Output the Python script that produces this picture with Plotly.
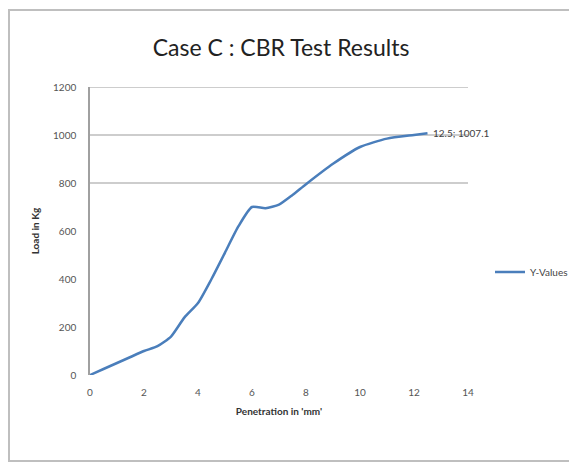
import plotly.graph_objects as go

penetration = [0, 0.5, 1, 1.5, 2, 2.5, 3, 3.5, 4, 4.5, 5, 5.5, 6, 6.5, 7, 7.5, 8, 9, 10, 11, 12, 12.5]
load = [0, 25, 50, 75, 100, 120, 160, 240, 300, 400, 510, 620, 700, 695, 710, 750, 795, 880, 950, 985, 1000, 1007.1]
x_ticks = [0, 2, 4, 6, 8, 10, 12, 14]
y_ticks = [0, 200, 400, 600, 800, 1000, 1200]
grid_ticks = [800, 1000, 1200]

FONT = "Lato"
OFF = 8  # page body margin
W, H = 577, 469
L, T = 90 - OFF, 87 - OFF
R, B = W - (468 - OFF), H - (375 - OFF)
pw, ph = W - L - R, H - T - B

fig = go.Figure()
fig.add_trace(go.Scatter(
    x=penetration, y=load, mode="lines", name="Y-Values",
    line=dict(color="#4a7ebb", width=2.5, shape="spline", smoothing=0.6),
))

for g in grid_ticks:
    fig.add_shape(type="line", xref="paper", yref="y", x0=0, x1=1, y0=g, y1=g,
                  line=dict(color="#bdbdbd", width=1.5), layer="below")

fig.add_annotation(x=penetration[-1], y=load[-1], text=f"{penetration[-1]}; {load[-1]}",
                   showarrow=False, xanchor="left", xshift=3,
                   font=dict(size=10, color="#404040", family=FONT))

fig.update_layout(
    width=W, height=H,
    margin=dict(l=L, r=R, t=T, b=B),
    paper_bgcolor="white", plot_bgcolor="white",
    title=dict(text="Case C : CBR Test Results", x=(281 - OFF) / W, xanchor="center",
               y=1 - (48 - OFF) / H, yanchor="middle",
               font=dict(family=FONT, size=23, color="#222")),
    xaxis=dict(range=[0, 14], tickvals=x_ticks, showgrid=False, zeroline=False,
               showline=False, ticks="", ticklabelstandoff=10, automargin=False,
               tickfont=dict(size=10, color="#555", family=FONT),
               title=dict(text="<b>Penetration in 'mm'</b>", standoff=10,
                          font=dict(size=10, color="#333", family=FONT))),
    yaxis=dict(range=[0, 1200], tickvals=y_ticks, showgrid=False, zeroline=False,
               showline=True, linecolor="#a0a0a0", linewidth=1.5, ticks="",
               ticklabelstandoff=10, automargin=False,
               tickfont=dict(size=10, color="#555", family=FONT),
               title=dict(text="<b>Load in Kg</b>", standoff=12,
                          font=dict(size=10, color="#333", family=FONT))),
    legend=dict(x=(490 - OFF - L) / pw, y=(375 - 272) / ph, xanchor="left", yanchor="middle",
                font=dict(size=10, color="#444", family=FONT),
                itemwidth=30, bgcolor="rgba(0,0,0,0)"),
    showlegend=True,
)

fig.add_shape(type="rect", xref="paper", yref="paper",
              x0=(9 - OFF - L) / pw, x1=(573 - OFF - L) / pw,
              y0=(375 - 461) / ph, y1=(375 - 10) / ph,
              line=dict(color="#bfbfbf", width=2), fillcolor="rgba(0,0,0,0)", layer="below")

fig.write_html("out.html")
